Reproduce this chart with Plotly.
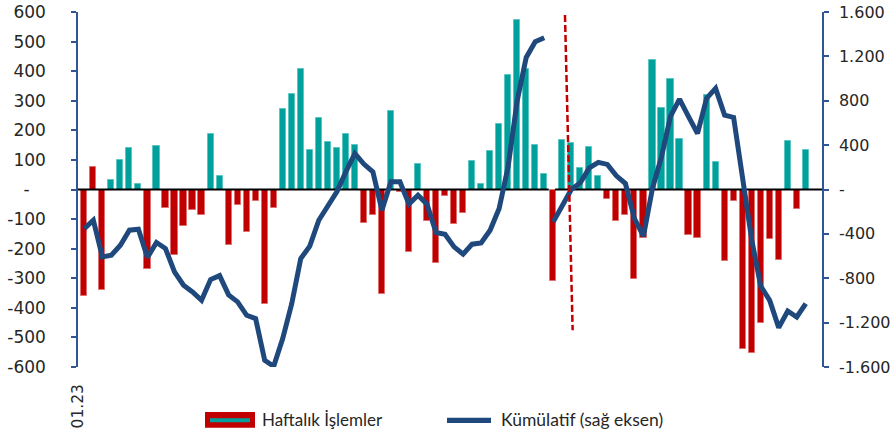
import plotly.graph_objects as go

# ---- data ----
weeks = list(range(81))
x_tick_vals = [-0.7]
x_tick_text = ["01.23"]

weekly = [-360, 77, -340, 32, 101, 141, 18, -268, 147, -64,
          -222, -124, -70, -85, 189, 46, -188, -53, -145, -38,
          -388, -61, 272, 322, 408, 133, 241, 162, 139, 188,
          149, -112, -85, -352, 264, -8, -211, 85, -108, -248,
          -23, -117, -78, 95, 18, 129, 223, 386, 573, 407,
          149, 51, -310, 167, 156, 73, 143, 46, -33, -108,
          -86, -302, -165, 437, 277, 373, 170, -154, -165, 319,
          94, -242, -38, -539, -552, -450, -168, -237, 165, -67,
          133]
inverted_bars = [1]  # positive bar drawn in the negative colour

cum_2023 = [-352, -277, -607, -592, -502, -367, -358, -613, -478, -532,
            -743, -863, -923, -998, -812, -776, -950, -1013, -1134, -1164,
            -1540, -1594, -1344, -1029, -623, -511, -277, -141, -21, 159,
            325, 229, 159, -186, 69, 69, -132, -51, -132, -388,
            -403, -517, -583, -493, -481, -367, -171, 210, 800, 1190,
            1332, 1368]
cum_2024 = [-292, -141, 0, 60, 195, 244, 226, 123, 54, -262,
            -421, 10, 295, 660, 815, 656, 505, 821, 911, 671,
            650, 100, -450, -870, -1000, -1245, -1095, -1149, -1029]

left_vals = [-600, -500, -400, -300, -200, -100, 0, 100, 200, 300, 400, 500, 600]
left_text = ["-600", "-500", "-400", "-300", "-200", "-100", "-\u00a0\u00a0\u00a0",
             "100", "200", "300", "400", "500", "600"]
right_vals = [-1600, -1200, -800, -400, 0, 400, 800, 1200, 1600]
right_text = ["-1.600", "-1.200", "-800", "-400", "-", "400", "800", "1.200", "1.600"]

legend_bar = "Haftalık İşlemler"
legend_line = "Kümülatif (sağ eksen)"

# ---- style ----
TEAL = "#00A19C"
TEAL_EDGE = "#5CC6C2"
RED = "#C00000"
RED_EDGE = "#E07070"
NAVY = "#1F497D"
AXIS_BLUE = "#2F5597"
FONT = "Lato"
TICK_FONT = "DejaVu Sans"
TXT = "#262626"

X_RANGE = [-0.7, 81.8]
seg_break = len(cum_2023)

fill = []
edge = []
for i, v in enumerate(weekly):
    neg = v < 0 or i in inverted_bars
    fill.append(RED if neg else TEAL)
    edge.append(RED_EDGE if neg else TEAL_EDGE)

fig = go.Figure()
fig.add_trace(go.Bar(x=weeks, y=weekly, width=0.68,
                     marker=dict(color=fill, line=dict(color=edge, width=1)),
                     showlegend=False, yaxis="y"))
# zero line (broken at year change)
fig.add_trace(go.Scatter(x=[X_RANGE[0], seg_break - 0.5, None, seg_break + 0.2, X_RANGE[1]],
                         y=[0, 0, None, 0, 0], mode="lines",
                         line=dict(color="black", width=2), showlegend=False,
                         hoverinfo="skip", yaxis="y"))
fig.add_trace(go.Scatter(x=weeks[:seg_break], y=cum_2023, mode="lines",
                         line=dict(color=NAVY, width=5), showlegend=False, yaxis="y2"))
fig.add_trace(go.Scatter(x=weeks[seg_break:], y=cum_2024, mode="lines",
                         line=dict(color=NAVY, width=5), showlegend=False, yaxis="y2"))

# dashed marker line
fig.add_shape(type="line", xref="x", yref="y", x0=53.3, y0=590, x1=54.15, y1=-476,
              line=dict(color=RED, width=2.5, dash="7px,3px"))

# custom legend
W, H = 744, 354.7
def px(xp):
    return (xp - 78) / W
def py(yp):
    return (366.7 - yp) / H

fig.add_shape(type="rect", xref="paper", yref="paper",
              x0=px(205), x1=px(255), y0=py(427.3), y1=py(411.7),
              fillcolor=RED, line=dict(width=0))
fig.add_shape(type="rect", xref="paper", yref="paper",
              x0=px(210), x1=px(250), y0=py(422), y1=py(418),
              fillcolor=TEAL, line=dict(width=0))
fig.add_shape(type="line", xref="paper", yref="paper",
              x0=px(447), x1=px(491), y0=py(420), y1=py(420),
              line=dict(color=NAVY, width=5.3))
fig.add_annotation(xref="paper", yref="paper", x=px(260), y=py(419.5),
                   text=legend_bar, showarrow=False, xanchor="left", yanchor="middle",
                   font=dict(family=FONT, size=17, color=TXT))
fig.add_annotation(xref="paper", yref="paper", x=px(499), y=py(419.5),
                   text=legend_line, showarrow=False, xanchor="left", yanchor="middle",
                   font=dict(family=FONT, size=17.5, color=TXT))

fig.update_layout(
    width=894, height=435,
    margin=dict(l=78, r=72, t=12, b=68.3, autoexpand=False),
    plot_bgcolor="white", paper_bgcolor="white",
    bargap=0,
    showlegend=False,
    font=dict(family=FONT, size=17, color=TXT),
    xaxis=dict(range=X_RANGE, tickvals=x_tick_vals, ticktext=x_tick_text,
               tickangle=-90, showgrid=False, zeroline=False, showline=False,
               automargin=False, ticks="", ticklabelstandoff=13,
               tickfont=dict(family=TICK_FONT, size=15.5, color=TXT)),
    yaxis=dict(range=[-600, 600], tickvals=left_vals, ticktext=left_text,
               showgrid=False, zeroline=False, showline=True, linecolor=AXIS_BLUE,
               linewidth=1.5, ticks="outside", ticklen=5, tickcolor=AXIS_BLUE,
               tickwidth=1.5, ticklabelstandoff=22, automargin=False,
               tickfont=dict(family=TICK_FONT, size=17, color=TXT)),
    yaxis2=dict(range=[-1600, 1600], tickvals=right_vals, ticktext=right_text,
                overlaying="y", side="right", automargin=False,
                showgrid=False, zeroline=False, showline=True, linecolor=AXIS_BLUE,
                linewidth=1.5, ticks="outside", ticklen=5, tickcolor=AXIS_BLUE,
                tickwidth=1.5, ticklabelstandoff=7,
                tickfont=dict(family=TICK_FONT, size=16, color=TXT)),
)

fig.write_html("out.html", config={"displayModeBar": False},
               post_script="document.body.style.margin='0';document.body.style.overflow='hidden';")
